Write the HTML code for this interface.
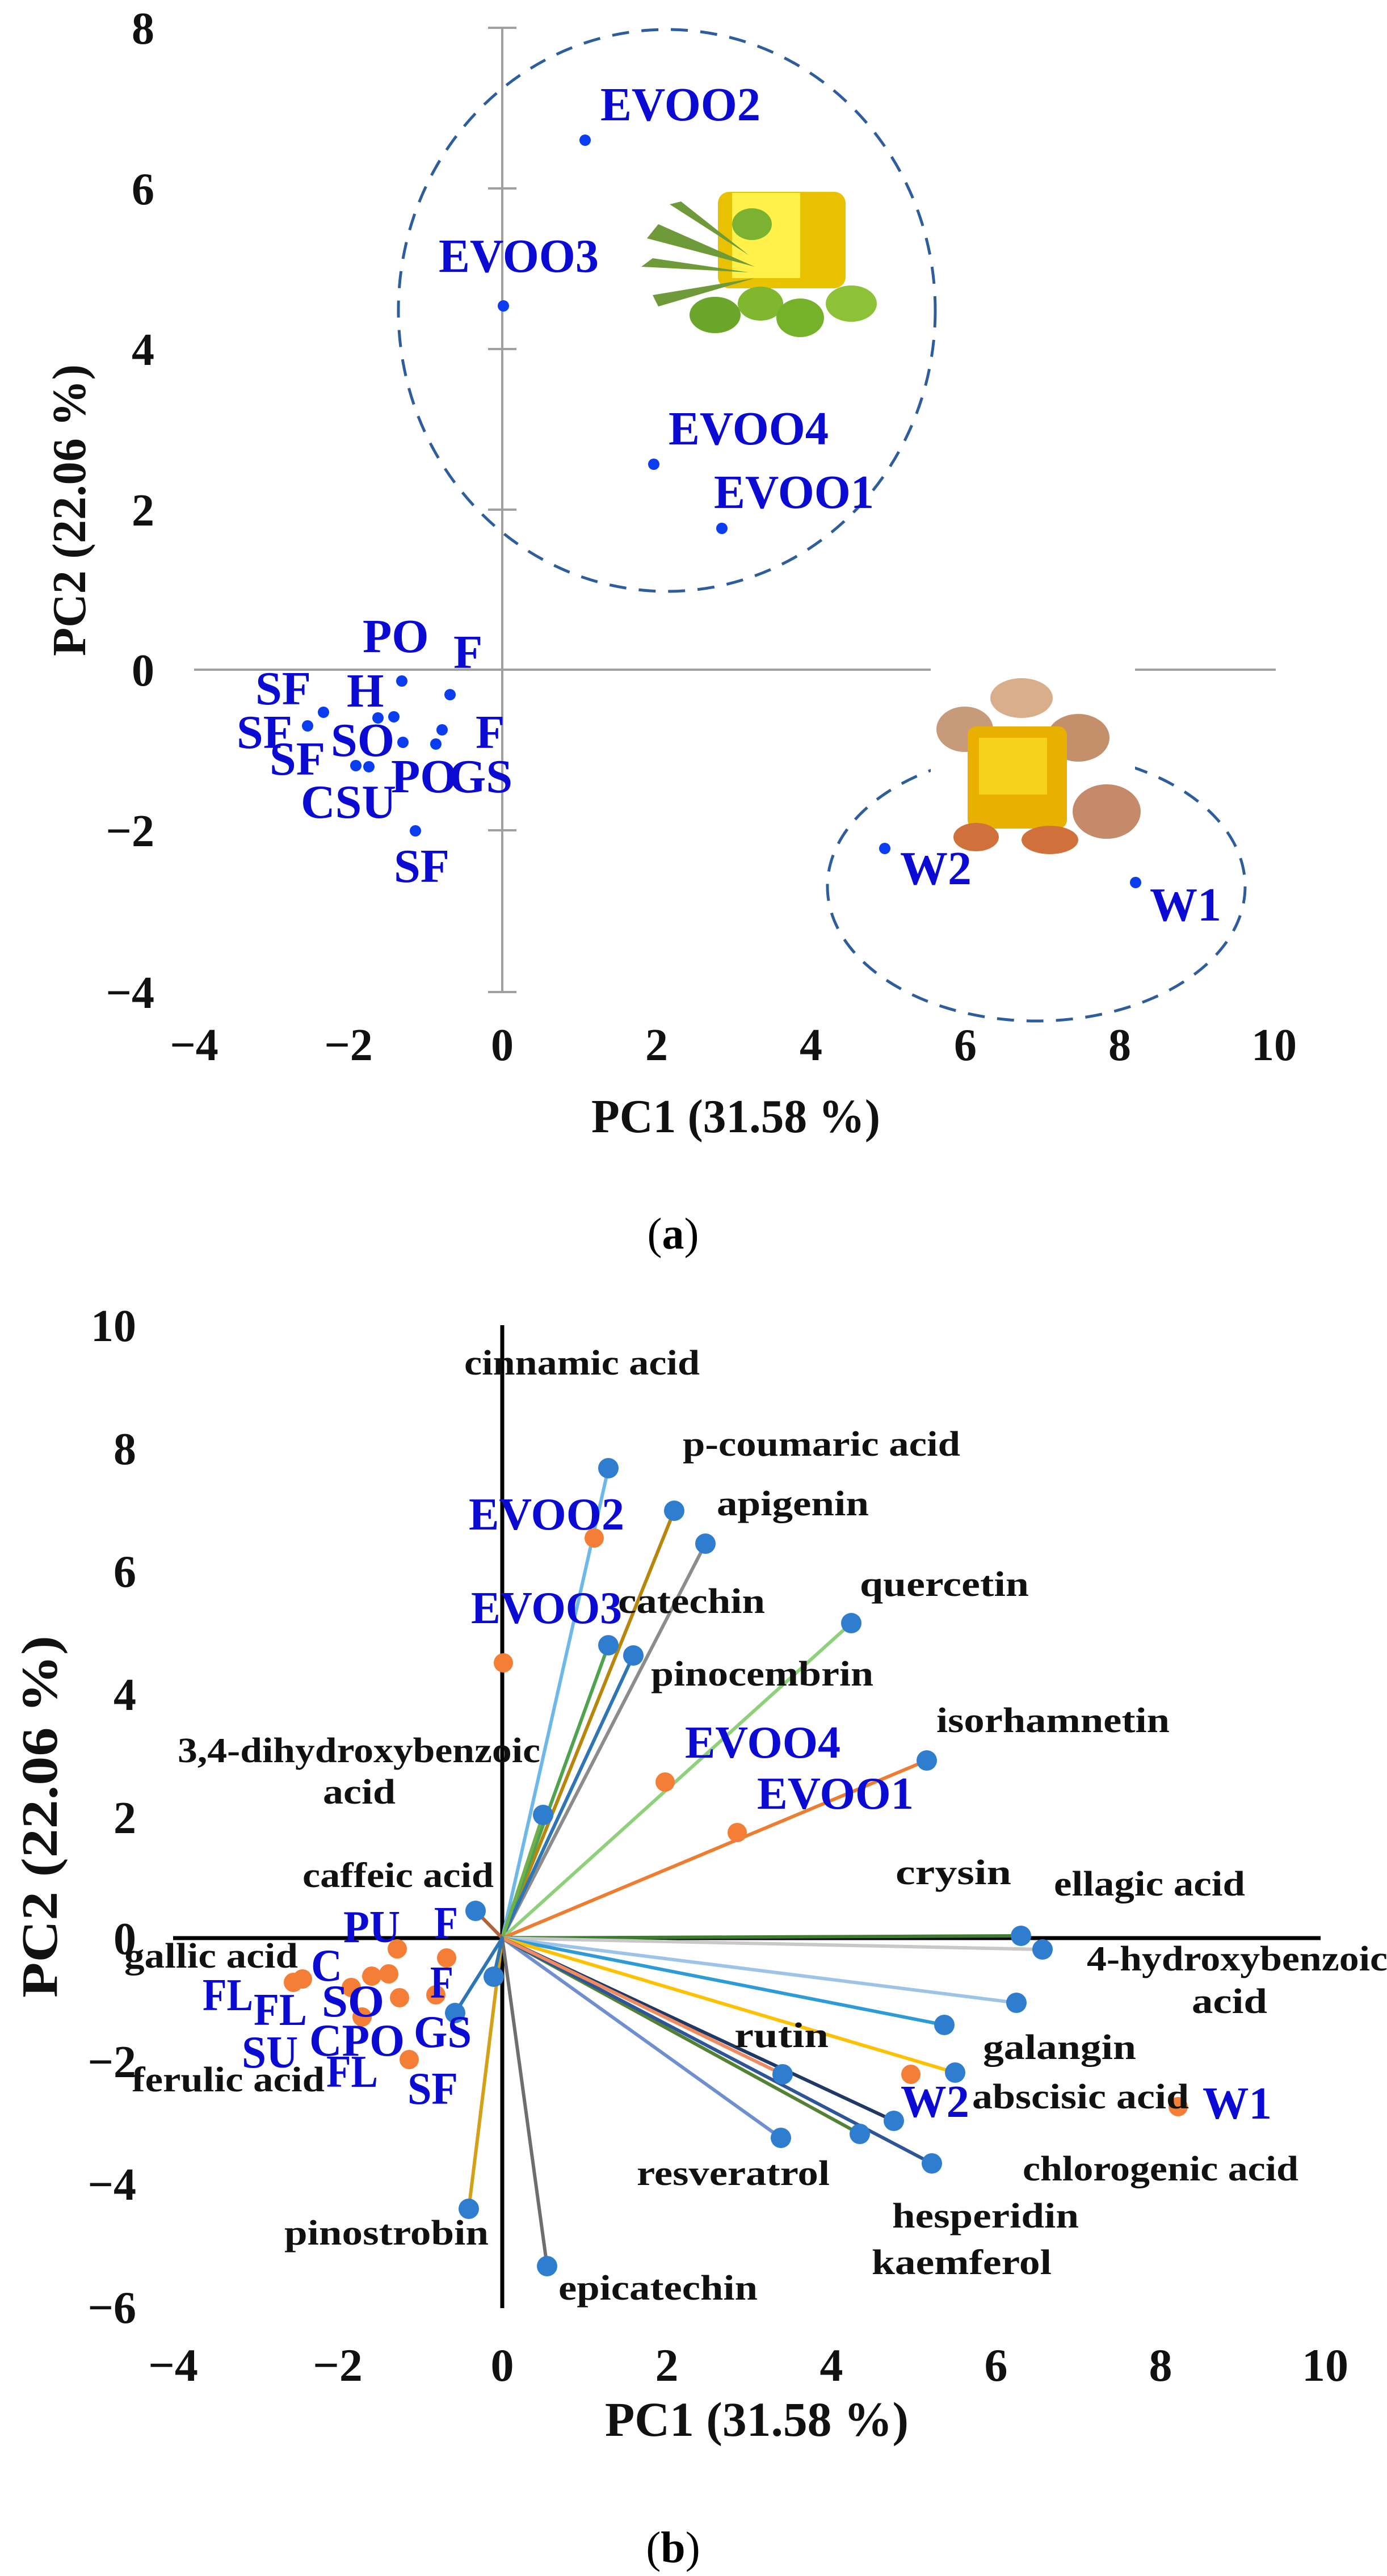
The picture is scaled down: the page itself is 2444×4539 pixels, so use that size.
<!DOCTYPE html>
<html><head><meta charset="utf-8"><style>
html,body{margin:0;padding:0;background:#fff}
svg{display:block}
text{font-family:"Liberation Serif",serif;font-weight:bold}
.bl{fill:#0a0ad2}
.k{fill:#111}
</style></head><body>
<svg width="2444" height="4539" viewBox="0 0 2444 4539" xmlns="http://www.w3.org/2000/svg">
<rect width="2444" height="4539" fill="#fff"/>
<!-- ===== Panel A ===== -->
<g stroke="#a0a0a0" stroke-width="4">
<line x1="342" y1="1180" x2="2248" y2="1180"/>
<line x1="885" y1="49" x2="885" y2="1748"/>
<line x1="860" y1="49" x2="910" y2="49"/>
<line x1="860" y1="332" x2="910" y2="332"/>
<line x1="860" y1="615" x2="910" y2="615"/>
<line x1="860" y1="898" x2="910" y2="898"/>
<line x1="860" y1="1463" x2="910" y2="1463"/>
<line x1="860" y1="1748" x2="910" y2="1748"/>
</g>
<g fill="none" stroke="#2d5d9c" stroke-width="5" stroke-dasharray="30,22">
<ellipse cx="1175" cy="547" rx="473" ry="495"/>
<ellipse cx="1826" cy="1562" rx="368" ry="237"/>
</g>
<!-- olive image -->
<g>
<rect x="1115" y="335" width="450" height="262" fill="#fff"/>
<rect x="1265" y="338" width="225" height="170" rx="20" fill="#e8c200"/>
<rect x="1290" y="340" width="120" height="150" fill="#fff14a"/>
<path d="M1140 420 L1330 470 L1160 395 Z M1130 470 L1320 480 L1150 455 Z M1160 540 L1330 490 L1150 520 Z M1180 360 L1320 450 L1200 355 Z" fill="#6f9a3a"/>
<ellipse cx="1260" cy="555" rx="45" ry="32" fill="#6aa629"/>
<ellipse cx="1340" cy="535" rx="40" ry="30" fill="#7fb82e"/>
<ellipse cx="1410" cy="560" rx="42" ry="34" fill="#76b12a"/>
<ellipse cx="1500" cy="535" rx="45" ry="32" fill="#8dc238"/>
<ellipse cx="1325" cy="395" rx="35" ry="28" fill="#7cb232"/>
</g>
<!-- walnut image -->
<g>
<rect x="1640" y="1170" width="360" height="335" fill="#fff"/>
<ellipse cx="1700" cy="1285" rx="50" ry="40" fill="#c79a7a"/>
<ellipse cx="1900" cy="1300" rx="55" ry="42" fill="#c4906c"/>
<ellipse cx="1950" cy="1430" rx="60" ry="48" fill="#c48a6a"/>
<ellipse cx="1800" cy="1230" rx="55" ry="35" fill="#d9ae8a"/>
<rect x="1705" y="1280" width="175" height="180" rx="15" fill="#eab000"/>
<rect x="1725" y="1300" width="120" height="100" fill="#f7d21c"/>
<ellipse cx="1720" cy="1475" rx="40" ry="25" fill="#d0703a"/>
<ellipse cx="1850" cy="1480" rx="50" ry="25" fill="#d0703a"/>
</g>
<g fill="#0a3df0">
<circle cx="1031" cy="247" r="10"/><circle cx="887" cy="539" r="10"/><circle cx="1152" cy="818" r="10"/><circle cx="1272" cy="931" r="10"/>
<circle cx="708" cy="1200" r="10"/><circle cx="793" cy="1224" r="10"/><circle cx="570" cy="1255" r="10"/><circle cx="542" cy="1279" r="10"/>
<circle cx="666" cy="1265" r="10"/><circle cx="694" cy="1263" r="10"/><circle cx="710" cy="1308" r="10"/><circle cx="768" cy="1311" r="10"/>
<circle cx="779" cy="1286" r="10"/><circle cx="627" cy="1349" r="10"/><circle cx="650" cy="1351" r="10"/><circle cx="732" cy="1464" r="10"/>
<circle cx="1559" cy="1495" r="10"/><circle cx="2001" cy="1555" r="10"/>
</g>
<g class="bl" font-size="84">
<text x="1058" y="212" textLength="282" lengthAdjust="spacingAndGlyphs">EVOO2</text>
<text x="773" y="479" textLength="282" lengthAdjust="spacingAndGlyphs">EVOO3</text>
<text x="1178" y="783" textLength="282" lengthAdjust="spacingAndGlyphs">EVOO4</text>
<text x="1258" y="895" textLength="282" lengthAdjust="spacingAndGlyphs">EVOO1</text>
<text x="639" y="1149">PO</text>
<text x="799" y="1177">F</text>
<text x="450" y="1241">SF</text>
<text x="611" y="1245">H</text>
<text x="417" y="1318">SF</text>
<text x="583" y="1332">SO</text>
<text x="475" y="1365">SF</text>
<text x="689" y="1396">PO</text>
<text x="791" y="1396">GS</text>
<text x="838" y="1318">F</text>
<text x="530" y="1441">CSU</text>
<text x="694" y="1554">SF</text>
<text x="1586" y="1558">W2</text>
<text x="2026" y="1622">W1</text>
</g>
<g class="k" font-size="80" text-anchor="end">
<text x="272" y="77">8</text><text x="272" y="360">6</text><text x="272" y="643">4</text><text x="272" y="926">2</text>
<text x="272" y="1208">0</text><text x="272" y="1491">−2</text><text x="272" y="1776">−4</text>
</g>
<g class="k" font-size="80" text-anchor="middle">
<text x="342" y="1868">−4</text><text x="614" y="1868">−2</text><text x="885" y="1868">0</text><text x="1157" y="1868">2</text>
<text x="1429" y="1868">4</text><text x="1701" y="1868">6</text><text x="1973" y="1868">8</text><text x="2245" y="1868">10</text>
</g>
<text class="k" x="1042" y="1995" font-size="84" textLength="509" lengthAdjust="spacingAndGlyphs">PC1 (31.58 %)</text>
<text class="k" font-size="84" transform="translate(150,1156) rotate(-90)" textLength="514" lengthAdjust="spacingAndGlyphs">PC2 (22.06 %)</text>
<text x="1186" y="2200" font-size="78" text-anchor="middle" style="font-weight:normal" fill="#000">(<tspan font-weight="bold">a</tspan>)</text>

<!-- ===== Panel B ===== -->
<g stroke="#000" stroke-width="7">
<line x1="305" y1="3415" x2="2327" y2="3415"/>
<line x1="885" y1="2335" x2="885" y2="4067"/>
</g>
<g stroke-width="6" stroke-linecap="round">
<line x1="885" y1="3415" x2="1072" y2="2587" stroke="#6db8e8"/>
<line x1="885" y1="3415" x2="1188" y2="2662" stroke="#b8860b"/>
<line x1="885" y1="3415" x2="1243" y2="2720" stroke="#8c8c8c"/>
<line x1="885" y1="3415" x2="1072" y2="2899" stroke="#4fa34f"/>
<line x1="885" y1="3415" x2="1116" y2="2917" stroke="#2e75b6"/>
<line x1="885" y1="3415" x2="1500" y2="2860" stroke="#8fd07a"/>
<line x1="885" y1="3415" x2="1633" y2="3102" stroke="#ed7d31"/>
<line x1="885" y1="3415" x2="957" y2="3198" stroke="#70b04a"/>
<line x1="885" y1="3415" x2="838" y2="3367" stroke="#b0643a"/>
<line x1="885" y1="3415" x2="1799" y2="3411" stroke="#3a7d2c"/>
<line x1="885" y1="3415" x2="1837" y2="3435" stroke="#c8c8c8"/>
<line x1="885" y1="3415" x2="1791" y2="3529" stroke="#9dc3e6"/>
<line x1="885" y1="3415" x2="1664" y2="3568" stroke="#2e9bd6"/>
<line x1="885" y1="3415" x2="1683" y2="3652" stroke="#ffc000"/>
<line x1="885" y1="3415" x2="1376" y2="3767" stroke="#6f8fcf"/>
<line x1="885" y1="3415" x2="1515" y2="3760" stroke="#548235"/>
<line x1="885" y1="3415" x2="1642" y2="3812" stroke="#2e5597"/>
<line x1="885" y1="3415" x2="1575" y2="3737" stroke="#1f3864"/>
<line x1="885" y1="3415" x2="1379" y2="3655" stroke="#f08a60"/>
<line x1="885" y1="3415" x2="826" y2="3892" stroke="#d4a017"/>
<line x1="885" y1="3415" x2="964" y2="3993" stroke="#6e6e6e"/>
<line x1="885" y1="3415" x2="870" y2="3483" stroke="#2e75b6"/>
<line x1="885" y1="3415" x2="802" y2="3547" stroke="#2e75b6"/>
</g>
<g fill="#f47e36">
<circle cx="1047" cy="2710" r="17"/><circle cx="887" cy="2930" r="17"/><circle cx="1172" cy="3140" r="17"/><circle cx="1299" cy="3229" r="17"/>
<circle cx="1605" cy="3655" r="17"/><circle cx="2076" cy="3712" r="17"/>
<circle cx="700" cy="3434" r="17"/><circle cx="787" cy="3450" r="17"/><circle cx="533" cy="3487" r="17"/><circle cx="685" cy="3478" r="17"/>
<circle cx="655" cy="3482" r="17"/><circle cx="619" cy="3502" r="17"/><circle cx="704" cy="3520" r="17"/><circle cx="768" cy="3515" r="17"/>
<circle cx="638" cy="3554" r="17"/><circle cx="721" cy="3629" r="17"/><circle cx="517" cy="3493" r="17"/>
</g>
<g fill="#2f7dcf">
<circle cx="1072" cy="2587" r="18"/><circle cx="1188" cy="2662" r="18"/><circle cx="1243" cy="2720" r="18"/><circle cx="1072" cy="2899" r="18"/>
<circle cx="1116" cy="2917" r="18"/><circle cx="1500" cy="2860" r="18"/><circle cx="1633" cy="3102" r="18"/><circle cx="957" cy="3198" r="18"/>
<circle cx="838" cy="3367" r="18"/><circle cx="1799" cy="3411" r="18"/><circle cx="1837" cy="3435" r="18"/><circle cx="1791" cy="3529" r="18"/>
<circle cx="1664" cy="3568" r="18"/><circle cx="1683" cy="3652" r="18"/><circle cx="1376" cy="3767" r="18"/><circle cx="1515" cy="3760" r="18"/>
<circle cx="1642" cy="3812" r="18"/><circle cx="1575" cy="3737" r="18"/><circle cx="1379" cy="3655" r="18"/><circle cx="826" cy="3892" r="18"/>
<circle cx="964" cy="3993" r="18"/><circle cx="870" cy="3483" r="18"/><circle cx="802" cy="3547" r="18"/>
</g>
<g class="k" font-size="62">
<text x="818" y="2422" textLength="415" lengthAdjust="spacingAndGlyphs">cinnamic acid</text>
<text x="1203" y="2565" textLength="489" lengthAdjust="spacingAndGlyphs">p-coumaric acid</text>
<text x="1263" y="2670" textLength="268" lengthAdjust="spacingAndGlyphs">apigenin</text>
<text x="1515" y="2812" textLength="298" lengthAdjust="spacingAndGlyphs">quercetin</text>
<text x="1089" y="2842" textLength="259" lengthAdjust="spacingAndGlyphs">catechin</text>
<text x="1147" y="2970" textLength="392" lengthAdjust="spacingAndGlyphs">pinocembrin</text>
<text x="1650" y="3052" textLength="411" lengthAdjust="spacingAndGlyphs">isorhamnetin</text>
<text x="313" y="3105" textLength="639" lengthAdjust="spacingAndGlyphs">3,4-dihydroxybenzoic</text>
<text x="569" y="3178" textLength="128" lengthAdjust="spacingAndGlyphs">acid</text>
<text x="533" y="3325" textLength="337" lengthAdjust="spacingAndGlyphs">caffeic acid</text>
<text x="1578" y="3320" textLength="204" lengthAdjust="spacingAndGlyphs">crysin</text>
<text x="1857" y="3340" textLength="337" lengthAdjust="spacingAndGlyphs">ellagic acid</text>
<text x="1915" y="3472" textLength="530" lengthAdjust="spacingAndGlyphs">4-hydroxybenzoic</text>
<text x="2100" y="3547" textLength="133" lengthAdjust="spacingAndGlyphs">acid</text>
<text x="1732" y="3628" textLength="270" lengthAdjust="spacingAndGlyphs">galangin</text>
<text x="1713" y="3715" textLength="382" lengthAdjust="spacingAndGlyphs">abscisic acid</text>
<text x="1294" y="3607" textLength="166" lengthAdjust="spacingAndGlyphs">rutin</text>
<text x="1802" y="3842" textLength="486" lengthAdjust="spacingAndGlyphs">chlorogenic acid</text>
<text x="1122" y="3850" textLength="340" lengthAdjust="spacingAndGlyphs">resveratrol</text>
<text x="1572" y="3925" textLength="329" lengthAdjust="spacingAndGlyphs">hesperidin</text>
<text x="1536" y="4007" textLength="317" lengthAdjust="spacingAndGlyphs">kaemferol</text>
<text x="501" y="3955" textLength="360" lengthAdjust="spacingAndGlyphs">pinostrobin</text>
<text x="984" y="4052" textLength="351" lengthAdjust="spacingAndGlyphs">epicatechin</text>
<text x="219" y="3467" textLength="306" lengthAdjust="spacingAndGlyphs">gallic acid</text>
<text x="232" y="3685" textLength="340" lengthAdjust="spacingAndGlyphs">ferulic acid</text>
</g>
<g class="bl" font-size="80">
<text x="826" y="2695" textLength="274" lengthAdjust="spacingAndGlyphs">EVOO2</text>
<text x="830" y="2860" textLength="266" lengthAdjust="spacingAndGlyphs">EVOO3</text>
<text x="1207" y="3097" textLength="274" lengthAdjust="spacingAndGlyphs">EVOO4</text>
<text x="1334" y="3187" textLength="276" lengthAdjust="spacingAndGlyphs">EVOO1</text>
<text x="1587" y="3730" textLength="121" lengthAdjust="spacingAndGlyphs">W2</text>
<text x="2119" y="3733" textLength="122" lengthAdjust="spacingAndGlyphs">W1</text>
<text x="605" y="3422" textLength="100" lengthAdjust="spacingAndGlyphs">PU</text>
<text x="765" y="3415" textLength="42" lengthAdjust="spacingAndGlyphs">F</text>
<text x="548" y="3490" textLength="55" lengthAdjust="spacingAndGlyphs">C</text>
<text x="357" y="3542" textLength="89" lengthAdjust="spacingAndGlyphs">FL</text>
<text x="447" y="3568" textLength="94" lengthAdjust="spacingAndGlyphs">FL</text>
<text x="567" y="3553" textLength="110" lengthAdjust="spacingAndGlyphs">SO</text>
<text x="758" y="3520" textLength="41" lengthAdjust="spacingAndGlyphs">F</text>
<text x="545" y="3622" textLength="168" lengthAdjust="spacingAndGlyphs">CPO</text>
<text x="729" y="3607" textLength="102" lengthAdjust="spacingAndGlyphs">GS</text>
<text x="426" y="3643" textLength="99" lengthAdjust="spacingAndGlyphs">SU</text>
<text x="575" y="3677" textLength="91" lengthAdjust="spacingAndGlyphs">FL</text>
<text x="718" y="3707" textLength="89" lengthAdjust="spacingAndGlyphs">SF</text>
</g>
<g class="k" font-size="80" text-anchor="end">
<text x="240" y="2363">10</text><text x="240" y="2580">8</text><text x="240" y="2796">6</text><text x="240" y="3013">4</text>
<text x="240" y="3230">2</text><text x="240" y="3443">0</text><text x="240" y="3660">−2</text><text x="240" y="3876">−4</text><text x="240" y="4093">−6</text>
</g>
<g class="k" font-size="82" text-anchor="middle">
<text x="305" y="4195">−4</text><text x="595" y="4195">−2</text><text x="885" y="4195">0</text><text x="1175" y="4195">2</text>
<text x="1465" y="4195">4</text><text x="1755" y="4195">6</text><text x="2045" y="4195">8</text><text x="2335" y="4195">10</text>
</g>
<text class="k" x="1066" y="4292" font-size="86" textLength="535" lengthAdjust="spacingAndGlyphs">PC1 (31.58 %)</text>
<text class="k" font-size="90" transform="translate(100,3520) rotate(-90)" textLength="638" lengthAdjust="spacingAndGlyphs">PC2 (22.06 %)</text>
<text x="1186" y="4515" font-size="78" text-anchor="middle" style="font-weight:normal" fill="#000">(<tspan font-weight="bold">b</tspan>)</text>
</svg>
</body></html>
